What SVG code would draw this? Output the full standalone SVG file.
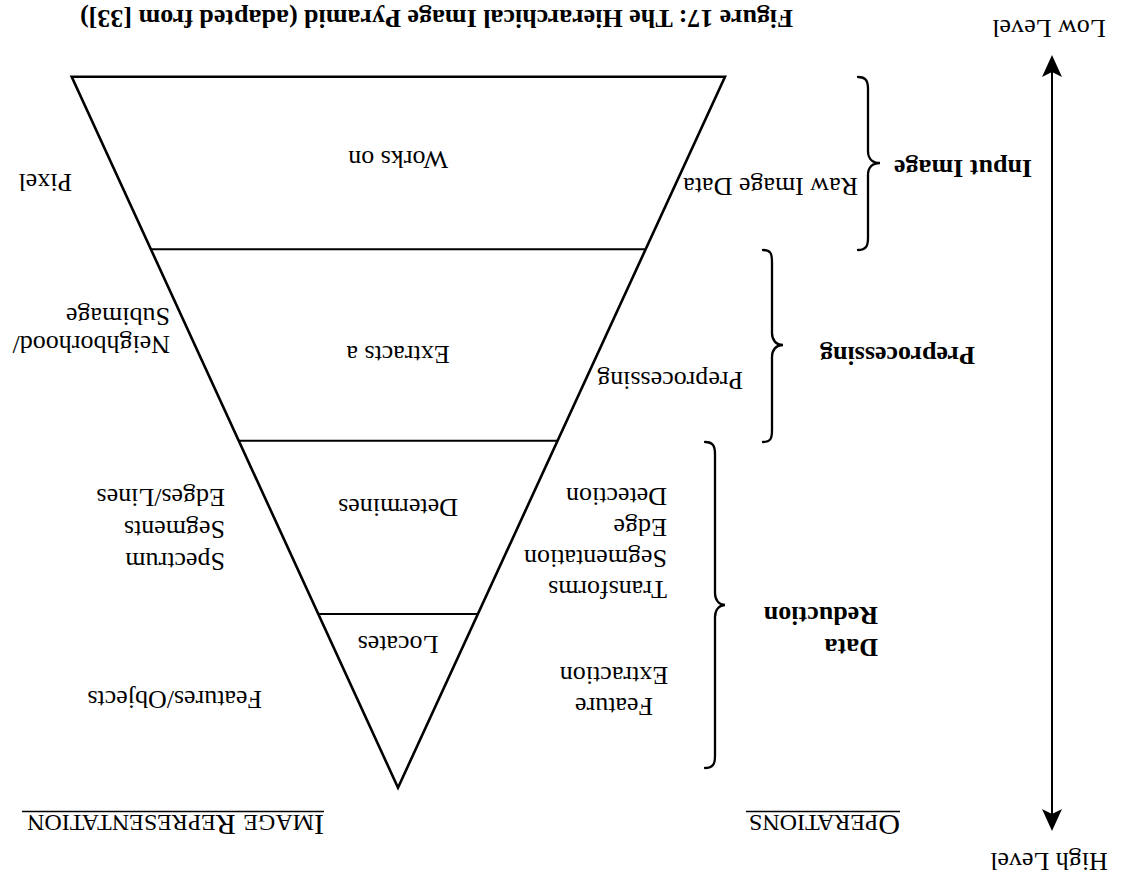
<svg xmlns="http://www.w3.org/2000/svg" width="1138" height="886" viewBox="0 0 1138 886">
  <style>
    .t { font-family: "Liberation Serif", "Times New Roman", serif; font-size: 26px; fill: #000; }
    .b { font-weight: bold; }
    .m { text-anchor: middle; }
    .edge { fill: none; stroke: #000; stroke-width: 2.6; stroke-linejoin: miter; }
    .tier { stroke: #000; stroke-width: 2; }
    .brace { fill: none; stroke: #000; stroke-width: 2.3; stroke-linecap: round; }
    .rule { stroke: #000; stroke-width: 1.6; }
    .cap { font-size: 30px; }
    .sc { font-size: 24px; }
  </style>
  <rect width="1138" height="886" fill="#fff"/>
  <!-- whole figure is laid out upright, then turned half a revolution -->
  <g transform="rotate(180 569 443)">
    <g id="title">
      <text class="t b" x="345" y="876">Figure 17: The Hierarchical Image Pyramid (adapted from [33])</text>
    </g>

    <!-- pyramid with its tiers -->
    <g id="pyramid">
      <polygon class="edge" points="740,98.3 413,809.3 1066.3,809.3"/>
      <line class="tier" x1="492.4" y1="636.7" x2="987.1" y2="636.7"/>
      <line class="tier" x1="580.4" y1="445.3" x2="899.2" y2="445.3"/>
      <line class="tier" x1="660.1" y1="272" x2="819.7" y2="272"/>
    </g>

    <g id="tier-works-on"><text class="t m" x="740" y="735">Works on</text></g>
    <g id="tier-extracts"><text class="t m" x="740" y="540">Extracts a</text></g>
    <g id="tier-determines"><text class="t m" x="740" y="387">Determines</text></g>
    <g id="tier-locates"><text class="t m" x="740" y="250">Locates</text></g>

    <!-- image representation column -->
    <g id="rep-pixel"><text class="t" x="1066" y="712">Pixel</text></g>
    <g id="rep-neighborhood">
      <text class="t" x="968" y="550">Neighborhood/</text>
      <text class="t" x="968" y="578">Subimage</text>
    </g>
    <g id="rep-spectrum">
      <text class="t" x="913" y="333">Spectrum</text>
      <text class="t" x="913" y="365">Segments</text>
      <text class="t" x="913" y="397">Edges/Lines</text>
    </g>
    <g id="rep-features"><text class="t" x="876" y="195">Features/Objects</text></g>

    <!-- operations column -->
    <g id="op-raw"><text class="t" x="280" y="708">Raw Image Data</text></g>
    <g id="op-preprocessing"><text class="t" x="395" y="514">Preprocessing</text></g>
    <g id="op-transforms">
      <text class="t" x="471" y="305">Transforms</text>
      <text class="t" x="471" y="336">Segmentation</text>
      <text class="t" x="471" y="367">Edge</text>
      <text class="t" x="471" y="398">Detection</text>
    </g>
    <g id="op-feature">
      <text class="t m" x="524" y="188">Feature</text>
      <text class="t m" x="524" y="219">Extraction</text>
    </g>

    <!-- stage braces and their labels -->
    <g id="stage-input">
      <path class="brace" d="M280,636 C272,636 270,640 270,648 L270,711 C270,718 266,723 258,723 C266,723 270,728 270,735 L270,797 C270,805 272,809 280,809"/>
      <text class="t b" x="106" y="726">Input Image</text>
    </g>
    <g id="stage-preprocessing">
      <path class="brace" d="M375,444 C367,444 366,448 366,456 L366,529 C366,536 362,541 355,541 C362,541 366,546 366,553 L366,624 C366,632 367,636 375,636"/>
      <text class="t b" x="163" y="539">Preprocessing</text>
    </g>
    <g id="stage-reduction">
      <path class="brace" d="M433,118 C425,118 423,122 423,130 L423,269 C423,276 419,281 413,281 C419,281 423,286 423,293 L423,432 C423,440 425,444 433,444"/>
      <text class="t b" x="260" y="247">Data</text>
      <text class="t b" x="260" y="279">Reduction</text>
    </g>

    <!-- column headings in small capitals, ruled underneath -->
    <g id="heading-operations">
      <text class="t" x="238" y="71"><tspan class="cap">O</tspan><tspan class="sc">PERATIONS</tspan></text>
      <line class="rule" x1="238" y1="74.5" x2="392" y2="74.5"/>
    </g>
    <g id="heading-representation">
      <text class="t" x="814" y="71"><tspan class="cap">I</tspan><tspan class="sc">MAGE</tspan><tspan class="cap"> R</tspan><tspan class="sc">EPRESENTATION</tspan></text>
      <line class="rule" x1="814" y1="74.5" x2="1116" y2="74.5"/>
    </g>

    <!-- level scale -->
    <g id="level-high"><text class="t m" x="89" y="33">High Level</text></g>
    <g id="level-low"><text class="t m" x="89" y="866">Low Level</text></g>
    <g id="connectors">
      <line x1="86" y1="70" x2="86" y2="816" stroke="#000" stroke-width="2"/>
      <path d="M86,55 L96,77 L86,72 L76,77 Z" fill="#000"/>
      <path d="M86,831 L96,809 L86,814 L76,809 Z" fill="#000"/>
    </g>
  </g>
</svg>
